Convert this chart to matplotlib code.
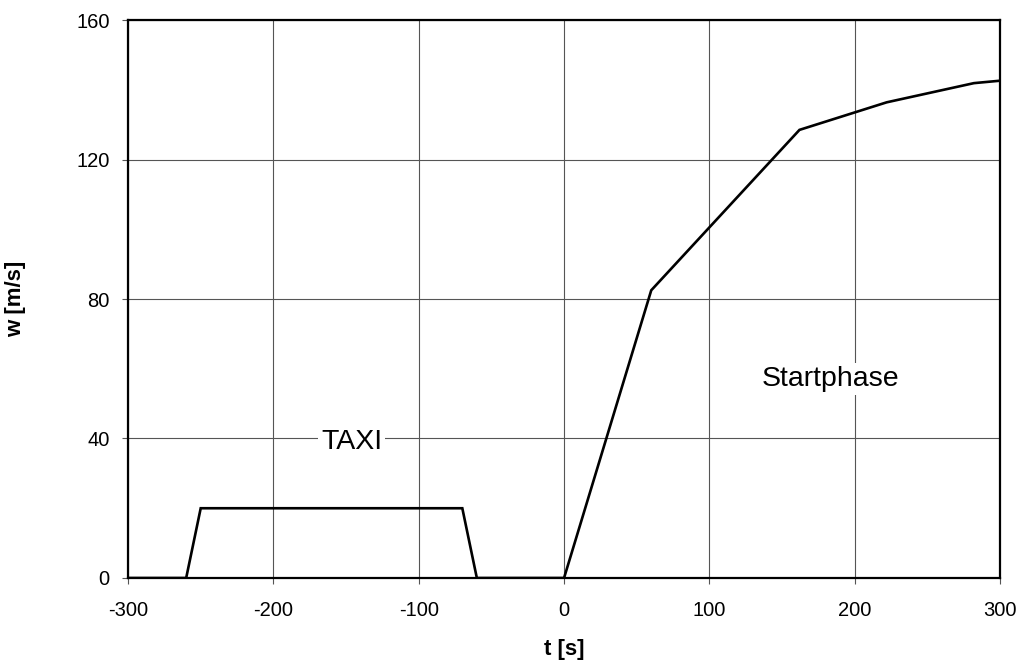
import matplotlib
matplotlib.use("Agg")
import matplotlib.pyplot as plt

plt.rcParams['font.family'] = ['Liberation Sans', 'DejaVu Sans']

# speed profile: taxi phase then take-off
t = [-300, -260, -250, -70, -60, 0, 60, 162, 222, 282, 300]
w = [0, 0, 20, 20, 0, 0, 82.5, 128.5, 136.4, 141.9, 142.6]

xticks = [-300, -200, -100, 0, 100, 200, 300]
yticks = [0, 40, 80, 120, 160]

fig = plt.figure(figsize=(10.26, 6.72), dpi=100)
ax = fig.add_axes([0.1248, 0.1399, 0.8499, 0.8303])
ax.plot(t, w, color='black', lw=1.9, solid_joinstyle='miter', zorder=3)

ax.set_xlim(-300, 300); ax.set_ylim(0, 160)
ax.set_xticks(xticks); ax.set_yticks(yticks)
ax.set_xticklabels([str(v) for v in xticks])
ax.grid(True, color='#555555', lw=0.8)
ax.set_axisbelow(True)
for s in ax.spines.values():
    s.set_linewidth(1.6); s.set_color('black')
ax.tick_params(direction='out', length=4.3, width=0.8, color='#555555', labelsize=14.5)
ax.tick_params(axis='x', pad=12)
ax.tick_params(axis='y', pad=9)

ax.set_xlabel('t [s]', fontsize=16, fontweight='bold', labelpad=14)
ax.set_ylabel('w [m/s]', fontsize=16, fontweight='bold', labelpad=36)

box = dict(facecolor='white', edgecolor='none', pad=2)
ax.text(-146, 39, 'TAXI', fontsize=20.5, ha='center', va='center', bbox=box, zorder=2)
ax.text(183, 57, 'Startphase', fontsize=20.5, ha='center', va='center', bbox=box, zorder=2)

fig.savefig('out.png', dpi=100)
